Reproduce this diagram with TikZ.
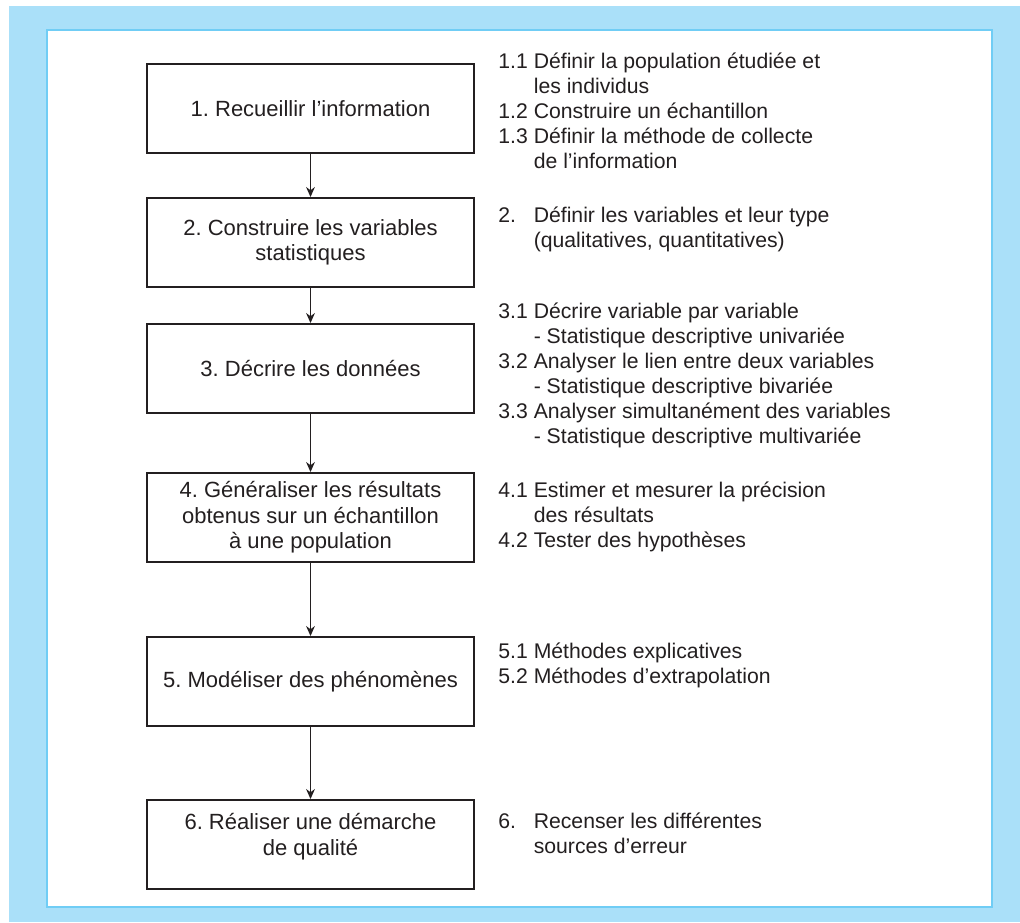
\documentclass[tikz,border=0pt]{standalone}
\usepackage{fontspec}
\setmainfont{Liberation Sans}
\usepackage{tikz}
\usetikzlibrary{arrows.meta}
\frenchspacing

\definecolor{cadreclair}{RGB}{170,224,249}
\definecolor{cadrebord}{RGB}{112,205,245}
\definecolor{encre}{RGB}{35,31,32}

\tikzset{etape/.style={draw=encre, line width=1pt, minimum width=163.5pt, minimum height=44.5pt, inner sep=0pt, align=center, text=encre, font=\fontsize{11}{12.8}\selectfont}}
\tikzset{fleche/.style={-{Stealth[length=5pt,width=4.4pt]}, draw=encre, line width=0.5pt}}
\tikzset{detail/.style={anchor=base west, inner sep=0pt, text=encre, font=\fontsize{10.6}{12.5}\selectfont}}

\newcommand{\sousliste}[1]{\begin{tabular}[t]{@{}p{17.7pt}@{}l@{}}#1\end{tabular}}

\begin{document}
\begin{tikzpicture}[x=0.5pt, y=-0.5pt]
	\useasboundingbox (0,0) rectangle (1020,922);
	\fill[cadreclair] (9,6) rectangle (1020,922);
	\filldraw[fill=white, draw=cadrebord, line width=1pt] (47,30) rectangle (992,907);

	\node[etape] (etape1) at (310.5,108.5) {1. Recueillir l’information};
	\node[etape] (etape2) at (310.5,242.5) {2. Construire les variables\\statistiques};
	\node[etape] (etape3) at (310.5,368.5) {3. Décrire les données};
	\node[etape] (etape4) at (310.5,517.5) {4. Généraliser les résultats\\obtenus sur un échantillon\\à une population};
	\node[etape] (etape5) at (310.5,681.5) {5. Modéliser des phénomènes};
	\node[etape, label={[align=center, text=encre, font=\fontsize{11}{12.8}\selectfont, yshift=4pt]center:6. Réaliser une démarche\\de qualité}] (etape6) at (310.5,844.5) {};

	\draw[fleche] (etape1) -- (etape2);
	\draw[fleche] (etape2) -- (etape3);
	\draw[fleche] (etape3) -- (etape4);
	\draw[fleche] (etape4) -- (etape5);
	\draw[fleche] (etape5) -- (etape6);

	\node[detail] (detail1) at (498,68) {\sousliste{
		1.1 & Définir la population étudiée et\\
		    & les individus\\
		1.2 & Construire un échantillon\\
		1.3 & Définir la méthode de collecte\\
		    & de l’information}};
	\node[detail] (detail2) at (498,222) {\sousliste{
		2.  & Définir les variables et leur type\\
		    & (qualitatives, quantitatives)}};
	\node[detail] (detail3) at (498,318) {\sousliste{
		3.1 & Décrire variable par variable\\
		    & - Statistique descriptive univariée\\
		3.2 & Analyser le lien entre deux variables\\
		    & - Statistique descriptive bivariée\\
		3.3 & Analyser simultanément des variables\\
		    & - Statistique descriptive multivariée}};
	\node[detail] (detail4) at (498,497) {\sousliste{
		4.1 & Estimer et mesurer la précision\\
		    & des résultats\\
		4.2 & Tester des hypothèses}};
	\node[detail] (detail5) at (498,658) {\sousliste{
		5.1 & Méthodes explicatives\\
		5.2 & Méthodes d’extrapolation}};
	\node[detail] (detail6) at (498,828) {\sousliste{
		6.  & Recenser les différentes\\
		    & sources d’erreur}};
\end{tikzpicture}
\end{document}
